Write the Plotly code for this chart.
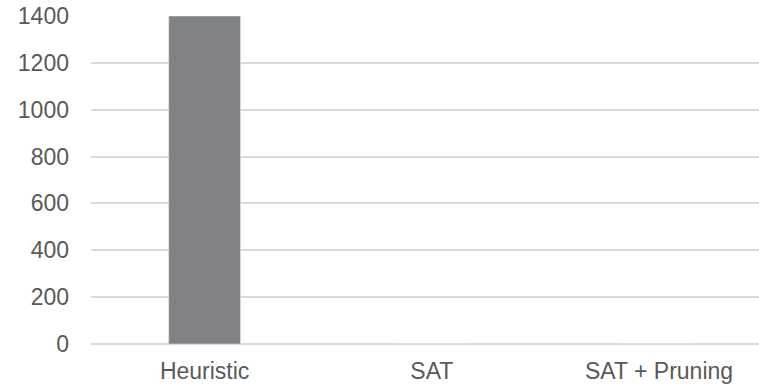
import plotly.graph_objects as go

categories = ["Heuristic", "SAT", "SAT + Pruning"]
values = [1400, 0, 0]
y_ticks = [0, 200, 400, 600, 800, 1000, 1200, 1400]

fig = go.Figure(go.Bar(x=categories, y=values, marker_color="#808184", width=0.316))

font = dict(family="Liberation Sans, Arial, sans-serif", size=23, color="#595959")
fig.update_layout(
    width=759, height=386,
    margin=dict(l=91, r=0, t=16, b=42),
    paper_bgcolor="white", plot_bgcolor="white",
    font=font, showlegend=False,
)
fig.update_xaxes(range=[-0.5, 2.44], showgrid=False, showline=False, ticks="",
                 tickfont=font, ticklabelstandoff=11)
fig.update_yaxes(range=[0, 1400], tickvals=y_ticks, showgrid=True, gridcolor="#d9d9d9",
                 gridwidth=1.5, zeroline=True, zerolinecolor="#d9d9d9", zerolinewidth=1.5,
                 showline=False, ticks="", tickfont=font, ticklabelstandoff=21)
fig.write_html("out.html")
